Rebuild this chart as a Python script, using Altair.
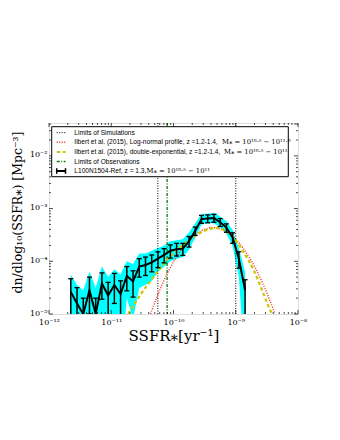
import altair as alt
import pandas as pd

# ---------------- data ----------------
log_ssfr = [-11.65, -11.55, -11.45, -11.35, -11.25, -11.15, -11.05, -10.95, -10.85, -10.75,
            -10.65, -10.55, -10.45, -10.35, -10.25, -10.15, -10.05, -9.95, -9.85, -9.75,
            -9.65, -9.55, -9.45, -9.35, -9.25, -9.15, -9.05, -8.95, -8.85]
log_phi = [-4.58, -4.80, -5.00, -4.55, -5.00, -4.42, -4.65, -4.45, -4.62, -4.28,
           -4.38, -4.10, -4.07, -4.02, -3.95, -3.88, -3.80, -3.77, -3.76, -3.62,
           -3.42, -3.20, -3.19, -3.18, -3.26, -3.36, -3.55, -3.95, -4.55]
err_up = [0.25, 0.30, 0.30, 0.25, 0.30, 0.20, 0.25, 0.22, 0.25, 0.18,
          0.20, 0.15, 0.15, 0.14, 0.13, 0.12, 0.11, 0.11, 0.10, 0.09,
          0.07, 0.07, 0.07, 0.07, 0.07, 0.07, 0.09, 0.13, 0.20]
err_dn = [0.45, 0.70, 1.00, 0.45, 1.00, 0.30, 0.50, 0.35, 0.45, 0.28,
          0.30, 0.20, 0.20, 0.18, 0.17, 0.15, 0.14, 0.13, 0.13, 0.11,
          0.09, 0.08, 0.08, 0.08, 0.08, 0.09, 0.11, 0.18, 0.60]
band_hi = [-4.25, -4.45, -4.55, -4.20, -4.50, -4.10, -4.30, -4.15, -4.25, -4.00,
           -4.05, -3.85, -3.85, -3.80, -3.75, -3.70, -3.62, -3.60, -3.58, -3.45,
           -3.28, -3.10, -3.10, -3.08, -3.15, -3.24, -3.40, -3.75, -4.20]
band_lo = [-6.0, -6.0, -6.0, -6.0, -6.0, -6.0, -6.0, -6.0, -6.0, -4.70,
           -5.10, -4.50, -4.45, -4.38, -4.20, -4.10, -4.00, -3.95, -3.92, -3.78,
           -3.55, -3.30, -3.28, -3.28, -3.36, -3.48, -3.72, -4.30, -6.0]

lognorm_x = [-10.37, -10.27, -10.17, -10.07, -9.97, -9.87, -9.77, -9.67, -9.57, -9.47,
             -9.37, -9.27, -9.17, -9.07, -8.97, -8.87, -8.77, -8.67, -8.57, -8.47, -8.37]
lognorm_y = [-5.00, -4.69, -4.41, -4.16, -3.95, -3.77, -3.62, -3.51, -3.43, -3.38,
             -3.36, -3.38, -3.43, -3.51, -3.62, -3.77, -3.95, -4.16, -4.41, -4.69, -5.00]

dexp_x = [-10.73, -10.6, -10.5, -10.4, -10.3, -10.2, -10.1, -10.0, -9.9, -9.8, -9.7, -9.6,
          -9.5, -9.4, -9.3, -9.2, -9.1, -9.0, -8.9, -8.8, -8.7, -8.6, -8.5, -8.42]
dexp_y = [-5.00, -4.76, -4.58, -4.42, -4.26, -4.11, -3.97, -3.85, -3.74, -3.64, -3.55, -3.48,
          -3.42, -3.38, -3.37, -3.40, -3.47, -3.60, -3.78, -3.97, -4.20, -4.48, -4.78, -5.00]

sim_limits = [5.6e-11, 1.0e-9]
obs_limits = [7.9e-11]

legend_labels = [
    "Limits of Simulations",
    "Ilbert et al. (2015), Log-normal profile, z =1.2-1.4,",
    "Ilbert et al. (2015), double-exponential, z =1.2-1.4,",
    "Limits of Observations",
    "L100N1504-Ref, z = 1.3,",
]
legend_math = [
    "",
    "M\u204e = 10\u00b9\u2070\u00b7\u2075 \u2212 10\u00b9\u00b9\u00b7\u2070",
    "M\u204e = 10\u00b9\u2070\u00b7\u2075 \u2212 10\u00b9\u00b9",
    "",
    "M\u204e = 10\u00b9\u2070\u00b7\u2075 \u2212 10\u00b9\u00b9",
]

x_ticks = [1e-12, 1e-11, 1e-10, 1e-9, 1e-8]
y_ticks = [1e-5, 1e-4, 1e-3, 1e-2]

# ---------------- frames ----------------
sim = pd.DataFrame({
    "x": [10 ** v for v in log_ssfr],
    "y": [10 ** v for v in log_phi],
    "hi": [10 ** (v + u) for v, u in zip(log_phi, err_up)],
    "lo": [10 ** (v - d) for v, d in zip(log_phi, err_dn)],
    "bhi": [10 ** v for v in band_hi],
    "blo": [10 ** v for v in band_lo],
})
lognorm = pd.DataFrame({"x": [10 ** v for v in lognorm_x], "y": [10 ** v for v in lognorm_y]})
dexp = pd.DataFrame({"x": [10 ** v for v in dexp_x], "y": [10 ** v for v in dexp_y]})

W, H = 249, 191
xscale = alt.Scale(type="log", domain=[1e-12, 1e-8], nice=False)
yscale = alt.Scale(type="log", domain=[1e-5, 0.042], nice=False)
SERIF = "DejaVu Serif"

sup = {-12: "10\u207b\u00b9\u00b2", -11: "10\u207b\u00b9\u00b9", -10: "10\u207b\u00b9\u2070",
       -9: "10\u207b\u2079", -8: "10\u207b\u2078", -5: "10\u207b\u2075", -4: "10\u207b\u2074",
       -3: "10\u207b\u00b3", -2: "10\u207b\u00b2"}


def label_expr(exps):
    parts = []
    for e in sorted(exps):
        parts.append(f"datum.value < {10 ** (e + 0.5):.3e} ? '{sup[e]}'")
    return " : ".join(parts) + " : ''"


xaxis = alt.Axis(values=x_ticks, labelExpr=label_expr([-12, -11, -10, -9, -8]),
                 title="SSFR\u204e[yr\u207b\u00b9]", titleFont=SERIF, titleFontSize=15,
                 titleFontWeight="normal", titleX=W / 2, titleY=21, titleBaseline="middle",
                 labelFont=SERIF, labelFontSize=8, labelPadding=4, ticks=False, domain=False,
                 grid=False, labelFlush=False, labelOverlap=False)
yaxis = alt.Axis(values=y_ticks, labelExpr=label_expr([-5, -4, -3, -2]),
                 title="dn/dlog\u2081\u2080(SSFR\u204e) [Mpc\u207b\u00b3]", titleFont=SERIF,
                 titleFontSize=12.5, titleFontWeight="normal", titleAngle=270, titleX=-32,
                 titleY=89, titleAlign="center", titleBaseline="middle",
                 labelFont=SERIF, labelFontSize=8, labelPadding=2, ticks=False, domain=False,
                 grid=False, labelFlush=False, labelOverlap=False, labelOffset=-1)

X = alt.X("x:Q", scale=xscale, axis=xaxis)

band = alt.Chart(sim).mark_area(color="#00FFFF", clip=True, orient="vertical", interpolate="linear").encode(
    x=X, y=alt.Y("blo:Q", scale=yscale, axis=yaxis), y2="bhi:Q")

vsim = alt.Chart(pd.DataFrame({"x": sim_limits})).mark_rule(
    color="black", strokeWidth=1, strokeDash=[1, 1.5], clip=True).encode(
    x=alt.X("x:Q", scale=xscale), y=alt.value(0), y2=alt.value(H))
vobs = alt.Chart(pd.DataFrame({"x": obs_limits})).mark_rule(
    color="#008000", strokeWidth=1.3, strokeDash=[3, 1.5, 1, 1.5], clip=True).encode(
    x=alt.X("x:Q", scale=xscale), y=alt.value(0), y2=alt.value(H))

red = alt.Chart(lognorm).mark_line(color="#ff2020", strokeWidth=1.4, strokeDash=[1, 1.5],
                                   clip=True, interpolate="monotone").encode(
    x=alt.X("x:Q", scale=xscale), y=alt.Y("y:Q", scale=yscale))
yellow = alt.Chart(dexp).mark_line(color="#c8c800", strokeWidth=2.2, strokeDash=[3.5, 2.5],
                                   clip=True, interpolate="monotone").encode(
    x=alt.X("x:Q", scale=xscale), y=alt.Y("y:Q", scale=yscale))

errs = alt.Chart(sim).mark_rule(color="black", strokeWidth=1.5, clip=True).encode(
    x=alt.X("x:Q", scale=xscale), y=alt.Y("lo:Q", scale=yscale), y2="hi:Q")
cap_shape = "M-1,0L1,0"
cap_lo = alt.Chart(sim).mark_point(shape=cap_shape, size=25, filled=False, color="black",
                                   strokeWidth=1.3, opacity=1, clip=True).encode(
    x=alt.X("x:Q", scale=xscale), y=alt.Y("lo:Q", scale=yscale))
cap_hi = alt.Chart(sim).mark_point(shape=cap_shape, size=25, filled=False, color="black",
                                   strokeWidth=1.3, opacity=1, clip=True).encode(
    x=alt.X("x:Q", scale=xscale), y=alt.Y("hi:Q", scale=yscale))
line = alt.Chart(sim).mark_line(color="black", strokeWidth=2, clip=True).encode(
    x=alt.X("x:Q", scale=xscale), y=alt.Y("y:Q", scale=yscale))

# ---- inward ticks (major + minor) ----
x_minor = [m * 10.0 ** e for e in range(-12, -8) for m in range(2, 10)]
y_minor = [m * 10.0 ** e for e in range(-5, -1) for m in range(2, 10) if m * 10.0 ** e < 0.042]
tick_layers = []
for vals, ln in ((x_ticks, 4), (x_minor, 2)):
    d = pd.DataFrame({"t": vals})
    tick_layers.append(alt.Chart(d).mark_rule(color="black", strokeWidth=0.7).encode(
        x=alt.X("t:Q", scale=xscale), y=alt.value(H), y2=alt.value(H - ln)))
    tick_layers.append(alt.Chart(d).mark_rule(color="black", strokeWidth=0.7).encode(
        x=alt.X("t:Q", scale=xscale), y=alt.value(0), y2=alt.value(ln)))
for vals, ln in ((y_ticks, 4), (y_minor, 2)):
    d = pd.DataFrame({"t": vals})
    tick_layers.append(alt.Chart(d).mark_rule(color="black", strokeWidth=0.7).encode(
        y=alt.Y("t:Q", scale=yscale), x=alt.value(0), x2=alt.value(ln)))
    tick_layers.append(alt.Chart(d).mark_rule(color="black", strokeWidth=0.7).encode(
        y=alt.Y("t:Q", scale=yscale), x=alt.value(W), x2=alt.value(W - ln)))

# ---- legend ----
one = pd.DataFrame({"a": [0]})
leg = [alt.Chart(one).mark_rect(fill="white", stroke="black", strokeWidth=1).encode(
    x=alt.value(2.7), x2=alt.value(239.3), y=alt.value(3.7), y2=alt.value(53.7))]
rows = [9.7, 19.3, 29.0, 38.5, 48.0]
math_x = [0, 173.0, 175.0, 0, 97.5]
styles = [
    dict(color="black", strokeWidth=1, strokeDash=[1, 1.5]),
    dict(color="#ff2020", strokeWidth=1.4, strokeDash=[1, 1.5]),
    dict(color="#c8c800", strokeWidth=2.2, strokeDash=[3.5, 2.5]),
    dict(color="#008000", strokeWidth=1.3, strokeDash=[3, 1.5, 1, 1.5]),
    dict(color="black", strokeWidth=2),
]
for ry, st, lab, mth, mx in zip(rows, styles, legend_labels, legend_math, math_x):
    leg.append(alt.Chart(one).mark_rule(**st).encode(
        x=alt.value(7.7), x2=alt.value(16.5), y=alt.value(ry)))
    leg.append(alt.Chart(one).mark_text(align="left", baseline="middle", font="Liberation Sans",
                                        fontSize=6.6, color="black").encode(
        x=alt.value(25.3), y=alt.value(ry), text=alt.value(lab)))
    if mth:
        leg.append(alt.Chart(one).mark_text(align="left", baseline="middle", font="DejaVu Serif",
                                            fontSize=6.8, color="black").encode(
            x=alt.value(mx), y=alt.value(ry), text=alt.value(mth)))
for xx in (7.7, 16.5):
    leg.append(alt.Chart(one).mark_rule(color="black", strokeWidth=1.5).encode(
        x=alt.value(xx), y=alt.value(rows[4] - 2.8), y2=alt.value(rows[4] + 2.8)))

chart = alt.layer(band, vsim, vobs, red, yellow, errs, cap_lo, cap_hi, line,
                  *tick_layers, *leg).properties(
    width=W, height=H,
    autosize=alt.AutoSizeParams(type="none"),
    padding={"left": 41, "top": 115, "right": 30, "bottom": 110},
).configure_view(stroke="#808080", strokeWidth=1.5).configure(background="white")

chart.save("out.html", embed_options={"renderer": "svg", "actions": False})
